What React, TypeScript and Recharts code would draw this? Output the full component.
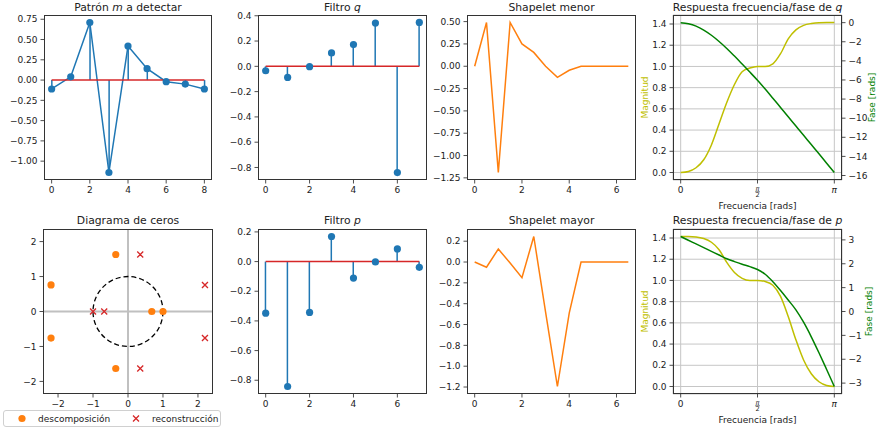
import React from "react";
import {
  ComposedChart,
  Line,
  Bar,
  Scatter,
  XAxis,
  YAxis,
  CartesianGrid,
  ReferenceLine,
  ReferenceDot,
} from "recharts";

const BLUE = "#1f77b4";
const ORANGE = "#ff7f0e";
const RED = "#d62728";
const YELLOW = "#bfbf00";
const GREEN = "#008000";
const INK = "#222";
const FONT = "'DejaVu Sans', sans-serif";

// Patrón m a detectar
const M_IDX = [0, 1, 2, 3, 4, 5, 6, 7, 8];
const M_VAL = [-0.11, 0.04, 0.71, -1.14, 0.42, 0.14, -0.02, -0.05, -0.11];

// Filtros q y p
const F_IDX = [0, 1, 2, 3, 4, 5, 6, 7];
const Q_VAL = [-0.035, -0.088, -0.003, 0.106, 0.172, 0.342, -0.84, 0.347];
const P_VAL = [-0.348, -0.842, -0.343, 0.169, -0.111, -0.002, 0.085, -0.039];

// Shapelets
const S_T = [0, 0.5, 1, 1.5, 2, 2.5, 3, 3.5, 4, 4.5, 5, 5.5, 6, 6.5];
const MENOR = [0, 0.49, -1.19, 0.49, 0.25, 0.155, 0.0, -0.125, -0.045, 0, 0, 0, 0, 0];
const MAYOR = [0, -0.05, 0.125, -0.01, -0.15, 0.245, -0.48, -1.195, -0.49, 0, 0, 0, 0, 0];

// Respuesta en frecuencia (x en fracciones de pi)
const FREQ = [0, 0.05, 0.1, 0.15, 0.2, 0.25, 0.3, 0.35, 0.4, 0.45, 0.5, 0.55, 0.6, 0.65, 0.7, 0.75, 0.8, 0.85, 0.9, 0.95, 1];
const Q_MAG = [0, 0.01, 0.045, 0.12, 0.26, 0.46, 0.66, 0.83, 0.95, 0.985, 1.0, 1.0, 1.025, 1.12, 1.26, 1.345, 1.387, 1.405, 1.413, 1.414, 1.414];
const Q_PHASE = [0, -0.12, -0.37, -0.78, -1.32, -1.97, -2.7, -3.5, -4.33, -5.17, -6.03, -6.95, -7.91, -8.88, -9.85, -10.82, -11.79, -12.76, -13.73, -14.71, -15.69];
const P_MAG = [1.414, 1.414, 1.41, 1.395, 1.36, 1.29, 1.17, 1.075, 1.02, 1.0, 1.0, 0.99, 0.955, 0.85, 0.66, 0.44, 0.25, 0.12, 0.045, 0.01, 0];
const P_PHASE = [3.14, 2.985, 2.83, 2.675, 2.52, 2.365, 2.21, 2.09, 1.98, 1.88, 1.76, 1.56, 1.25, 0.88, 0.48, 0.07, -0.45, -1.06, -1.73, -2.43, -3.14];

// Diagrama de ceros
const DESC_RE = [-2.2, -2.2, -0.35, -0.35, 0.68, 1.0];
const DESC_IM = [0.76, -0.76, 1.63, -1.63, 0, 0];
const REC_RE = [2.2, 2.2, 0.35, 0.35, -0.68, -1.0];
const REC_IM = [-0.76, 0.76, -1.63, 1.63, 0, 0];

// ticks
const M_YTICKS = [-1, -0.75, -0.5, -0.25, 0, 0.25, 0.5, 0.75];
const EVEN_X = [0, 2, 4, 6, 8];
const Q_YTICKS = [-0.8, -0.6, -0.4, -0.2, 0, 0.2, 0.4];
const P_YTICKS = [-0.8, -0.6, -0.4, -0.2, 0, 0.2];
const MENOR_YTICKS = [-1.25, -1, -0.75, -0.5, -0.25, 0, 0.25, 0.5];
const MAYOR_YTICKS = [-1.2, -1, -0.8, -0.6, -0.4, -0.2, 0, 0.2];
const MAG_TICKS = [0, 0.2, 0.4, 0.6, 0.8, 1, 1.2, 1.4];
const QPH_TICKS = [-16, -14, -12, -10, -8, -6, -4, -2, 0];
const PPH_TICKS = [-3, -2, -1, 0, 1, 2, 3];
const FREQ_TICKS = [0, 0.5, 1];
const ZERO_TICKS = [-2, -1, 0, 1, 2];

type Rect = { x: number; y: number; w: number; h: number };
const R1: Rect = { x: 44, y: 15, w: 168, h: 165 };
const R2: Rect = { x: 258, y: 15, w: 169, h: 165 };
const R3: Rect = { x: 467, y: 15, w: 169, h: 165 };
const R4: Rect = { x: 673, y: 15, w: 169, h: 165 };
const R5: Rect = { x: 43, y: 229, w: 170, h: 165 };
const R6: Rect = { x: 258, y: 229, w: 169, h: 165 };
const R7: Rect = { x: 467, y: 229, w: 169, h: 165 };
const R8: Rect = { x: 673, y: 229, w: 169, h: 165 };

const ZX: [number, number] = [-2.43, 2.43];
const ZY: [number, number] = [-2.36, 2.36];
const UNIT_PX = R5.w / (ZX[1] - ZX[0]);

const YW = 50;
const XH = 24;
const PAD = 5;

const fmt = (d: number) => (v: number) => v.toFixed(d).replace("-", "\u2212");

const AX = {
  tickSize: 3.5,
  tickMargin: 3,
  axisLine: false,
  tickLine: { stroke: INK, strokeWidth: 0.8 },
  tick: { fontSize: 9, fill: INK, fontFamily: FONT },
  interval: 0 as const,
  allowDataOverflow: true,
};

function box(r: Rect, right = false) {
  const rw = right ? 36 : 6;
  return {
    style: { position: "absolute" as const, left: r.x - YW, top: r.y - PAD },
    width: YW + r.w + rw,
    height: PAD + r.h + XH,
    margin: { top: PAD, right: right ? 0 : rw, bottom: 0, left: 0 },
  };
}

const Frame = ({ r }: { r: Rect }) => (
  <div
    style={{
      position: "absolute",
      left: r.x,
      top: r.y,
      width: r.w,
      height: r.h,
      border: "1px solid #333",
      boxSizing: "border-box",
      pointerEvents: "none",
    }}
  />
);

const PiTick = (props: any) => {
  const { x, y, payload } = props;
  const v = payload.value;
  if (v === 0.5) {
    return (
      <g fill={INK} fontFamily={FONT}>
        <text x={x} y={y + 4} textAnchor="middle" fontSize={6.5} fontStyle="italic">π</text>
        <line x1={x - 2.4} x2={x + 2.4} y1={y + 5.3} y2={y + 5.3} stroke={INK} strokeWidth={0.6} />
        <text x={x} y={y + 10.8} textAnchor="middle" fontSize={6.5}>2</text>
      </g>
    );
  }
  return (
    <text x={x} y={y} dy="0.71em" textAnchor="middle" fontSize={9} fill={INK} fontFamily={FONT} fontStyle={v === 1 ? "italic" : "normal"}>
      {v === 0 ? "0" : "π"}
    </text>
  );
};

const OrangeDot = (p: any) => <circle cx={p.cx} cy={p.cy} r={3.6} fill={ORANGE} />;
const RedCross = (p: any) => (
  <path
    d={`M${p.cx - 3},${p.cy - 3}L${p.cx + 3},${p.cy + 3}M${p.cx - 3},${p.cy + 3}L${p.cx + 3},${p.cy - 3}`}
    stroke={RED}
    strokeWidth={1.3}
  />
);

const stemRows = (xs: number[], vs: number[]) => xs.map((x, i) => ({ x, v: vs[i], base: 0 }));
const lineRows = (xs: number[], vs: number[]) => xs.map((x, i) => ({ x, v: vs[i] }));
const freqRows = (mag: number[], ph: number[]) => FREQ.map((f, i) => ({ x: f, mag: mag[i], ph: ph[i] }));
const ptRows = (re: number[], im: number[]) => re.map((x, i) => ({ x, y: im[i] }));

function StemChart({ r, xs, vs, xdom, xticks, ydom, yticks, dec, joined }: any) {
  const b = box(r);
  return (
    <div style={b.style}>
      <ComposedChart width={b.width} height={b.height} margin={b.margin} data={stemRows(xs, vs)}>
        <XAxis type="number" dataKey="x" domain={xdom} ticks={xticks} height={XH} {...AX} tickFormatter={fmt(0)} />
        <YAxis type="number" domain={ydom} ticks={yticks} width={YW} {...AX} tickFormatter={fmt(dec)} />
        {joined ? <Line dataKey="v" stroke={BLUE} strokeWidth={1.5} dot={false} isAnimationActive={false} /> : null}
        <Bar dataKey="v" fill={BLUE} barSize={1.5} isAnimationActive={false} />
        <Line dataKey="base" stroke={RED} strokeWidth={1.5} dot={false} isAnimationActive={false} />
        <Line dataKey="v" stroke="none" dot={{ r: 3.6, fill: BLUE, stroke: "none" }} isAnimationActive={false} />
      </ComposedChart>
    </div>
  );
}

function ShapeChart({ r, vs, ydom, yticks, dec }: any) {
  const b = box(r);
  return (
    <div style={b.style}>
      <ComposedChart width={b.width} height={b.height} margin={b.margin} data={lineRows(S_T, vs)}>
        <XAxis type="number" dataKey="x" domain={[-0.325, 6.825]} ticks={[0, 2, 4, 6]} height={XH} {...AX} tickFormatter={fmt(0)} />
        <YAxis type="number" domain={ydom} ticks={yticks} width={YW} {...AX} tickFormatter={fmt(dec)} />
        <Line type="linear" dataKey="v" stroke={ORANGE} strokeWidth={1.5} dot={false} isAnimationActive={false} />
      </ComposedChart>
    </div>
  );
}

function FreqChart({ r, mag, ph, phdom, phticks }: any) {
  const b = box(r, true);
  return (
    <div style={b.style}>
      <ComposedChart width={b.width} height={b.height} margin={b.margin} data={freqRows(mag, ph)}>
        <CartesianGrid yAxisId="left" stroke="#c6c6c6" strokeWidth={1} />
        <XAxis type="number" dataKey="x" domain={[-0.05, 1.05]} ticks={FREQ_TICKS} height={XH} {...AX} tick={<PiTick />} />
        <YAxis yAxisId="left" type="number" domain={[-0.0707, 1.485]} ticks={MAG_TICKS} width={YW} {...AX} tickFormatter={fmt(1)} />
        <YAxis yAxisId="right" orientation="right" type="number" domain={phdom} ticks={phticks} width={36} {...AX} tickFormatter={fmt(0)} />
        <Line yAxisId="left" type="monotone" dataKey="mag" stroke={YELLOW} strokeWidth={1.5} dot={false} isAnimationActive={false} />
        <Line yAxisId="right" type="monotone" dataKey="ph" stroke={GREEN} strokeWidth={1.5} dot={false} isAnimationActive={false} />
      </ComposedChart>
    </div>
  );
}

function ZeroChart() {
  const b = box(R5);
  return (
    <div style={b.style}>
      <ComposedChart width={b.width} height={b.height} margin={b.margin}>
        <XAxis type="number" dataKey="x" domain={ZX} ticks={ZERO_TICKS} height={XH} {...AX} tickFormatter={fmt(0)} />
        <YAxis type="number" dataKey="y" domain={ZY} ticks={ZERO_TICKS} width={YW} {...AX} tickFormatter={fmt(0)} />
        <ReferenceLine x={0} stroke="#c0c0c0" strokeWidth={2} />
        <ReferenceLine y={0} stroke="#c0c0c0" strokeWidth={2} />
        <ReferenceDot x={0} y={0} r={UNIT_PX} fill="none" stroke="#000" strokeWidth={1.3} strokeDasharray="5 3" />
        <Scatter data={ptRows(DESC_RE, DESC_IM)} shape={<OrangeDot />} isAnimationActive={false} />
        <Scatter data={ptRows(REC_RE, REC_IM)} shape={<RedCross />} isAnimationActive={false} />
      </ComposedChart>
    </div>
  );
}

const cx = (r: Rect) => r.x + r.w / 2;
const cy = (r: Rect) => r.y + r.h / 2;

export default function App() {
  const T = { fontSize: 10.8, fill: INK, fontFamily: FONT, textAnchor: "middle" as const };
  const L = { fontSize: 9, fontFamily: FONT, textAnchor: "middle" as const };
  return (
    <div style={{ position: "fixed", left: 0, top: 0, width: 877, height: 428, background: "#fff", overflow: "hidden" }}>
      <StemChart r={R1} xs={M_IDX} vs={M_VAL} xdom={[-0.4, 8.4]} xticks={EVEN_X} ydom={[-1.2325, 0.8025]} yticks={M_YTICKS} dec={2} joined />
      <StemChart r={R2} xs={F_IDX} vs={Q_VAL} xdom={[-0.35, 7.35]} xticks={[0, 2, 4, 6]} ydom={[-0.899, 0.406]} yticks={Q_YTICKS} dec={1} />
      <ShapeChart r={R3} vs={MENOR} ydom={[-1.274, 0.574]} yticks={MENOR_YTICKS} dec={2} />
      <FreqChart r={R4} mag={Q_MAG} ph={Q_PHASE} phdom={[-16.47, 0.8]} phticks={QPH_TICKS} />
      <ZeroChart />
      <StemChart r={R6} xs={F_IDX} vs={P_VAL} xdom={[-0.35, 7.35]} xticks={[0, 2, 4, 6]} ydom={[-0.8926, 0.2196]} yticks={P_YTICKS} dec={1} />
      <ShapeChart r={R7} vs={MAYOR} ydom={[-1.267, 0.317]} yticks={MAYOR_YTICKS} dec={1} />
      <FreqChart r={R8} mag={P_MAG} ph={P_PHASE} phdom={[-3.456, 3.456]} phticks={PPH_TICKS} />

      {[R1, R2, R3, R4, R5, R6, R7, R8].map((r, i) => (
        <Frame key={i} r={r} />
      ))}

      <svg width={877} height={428} style={{ position: "absolute", left: 0, top: 0, pointerEvents: "none" }}>
        <text x={cx(R1)} y={11} {...T}>
          Patrón <tspan fontStyle="italic">m</tspan> a detectar
        </text>
        <text x={cx(R2)} y={11} {...T}>
          Filtro <tspan fontStyle="italic">q</tspan>
        </text>
        <text x={cx(R3)} y={11} {...T}>Shapelet menor</text>
        <text x={cx(R4)} y={11} {...T}>
          Respuesta frecuencia/fase de <tspan fontStyle="italic">q</tspan>
        </text>
        <text x={cx(R5)} y={224} {...T}>Diagrama de ceros</text>
        <text x={cx(R6)} y={224} {...T}>
          Filtro <tspan fontStyle="italic">p</tspan>
        </text>
        <text x={cx(R7)} y={224} {...T}>Shapelet mayor</text>
        <text x={cx(R8)} y={224} {...T}>
          Respuesta frecuencia/fase de <tspan fontStyle="italic">p</tspan>
        </text>

        <text x={cx(R4)} y={209} {...L} fill={INK}>Frecuencia [rads]</text>
        <text x={cx(R8)} y={422.5} {...L} fill={INK}>Frecuencia [rads]</text>

        <text x={647.5} y={cy(R4)} {...L} fill={YELLOW} transform={`rotate(-90 647.5 ${cy(R4)})`}>Magnitud</text>
        <text x={647.5} y={cy(R8)} {...L} fill={YELLOW} transform={`rotate(-90 647.5 ${cy(R8)})`}>Magnitud</text>
        <text x={874.5} y={cy(R4)} {...L} fill={GREEN} transform={`rotate(-90 874.5 ${cy(R4)})`}>Fase [rads]</text>
        <text x={871.5} y={cy(R8)} {...L} fill={GREEN} transform={`rotate(-90 871.5 ${cy(R8)})`}>Fase [rads]</text>

        <rect x={3.5} y={410.5} width={217} height={16} rx={2.5} fill="#fff" stroke="#d0d0d0" strokeWidth={1} />
        <circle cx={22} cy={418.5} r={3.6} fill={ORANGE} />
        <text x={38} y={421.8} fontSize={9} fontFamily={FONT} fill={INK}>descomposición</text>
        <path d="M133,415.5L139,421.5M133,421.5L139,415.5" stroke={RED} strokeWidth={1.3} />
        <text x={152} y={421.8} fontSize={9} fontFamily={FONT} fill={INK}>reconstrucción</text>
      </svg>
    </div>
  );
}
